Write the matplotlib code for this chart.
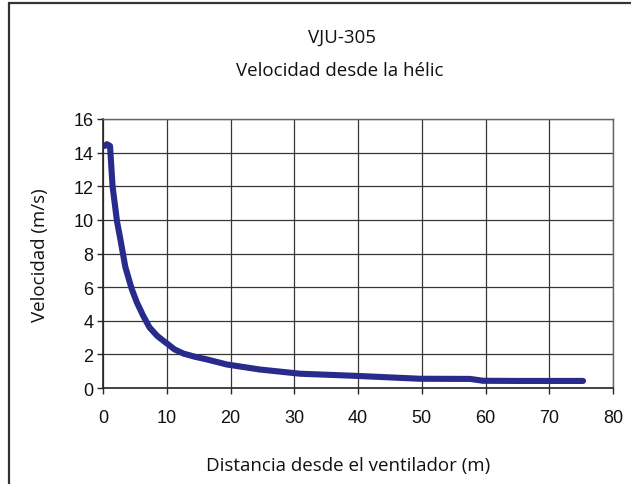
import matplotlib
matplotlib.use("Agg")
import matplotlib.pyplot as plt
from matplotlib.patches import Rectangle

distancia = [0.3, 0.6, 1.1, 1.5, 2.2, 2.7, 3.5, 4.5, 5.3, 6.3, 7.3, 8.5, 9.5, 10.2, 11.2,
             12.6, 14.5, 16.3, 19.4, 24.6, 30.9, 39.8, 49.7, 57.6, 59.6, 65.0, 75.3]
velocidad = [14.4, 14.5, 14.4, 12.0, 9.9, 8.9, 7.2, 5.9, 5.1, 4.3, 3.6, 3.1, 2.8, 2.6, 2.3,
             2.05, 1.85, 1.7, 1.4, 1.1, 0.85, 0.72, 0.55, 0.54, 0.43, 0.42, 0.42]

xticks = [0, 10, 20, 30, 40, 50, 60, 70, 80]
yticks = [0, 2, 4, 6, 8, 10, 12, 14, 16]

titulo1 = "VJU-305"
titulo2 = "Velocidad desde la hélic"
xlabel = "Distancia desde el ventilador (m)"
ylabel = "Velocidad (m/s)"

fig = plt.figure(figsize=(6.31, 4.85), dpi=100)
fig.patch.set_facecolor("white")
ax = fig.add_axes([103/631, 1 - 389/485, 510/631, 269/485])

ax.plot(distancia, velocidad, color="#292b8c", linewidth=4.4, solid_capstyle="round",
        solid_joinstyle="round")

ax.set_xlim(0, 80)
ax.set_ylim(0, 16)
ax.set_xticks(xticks)
ax.set_yticks(yticks)
ax.grid(True, color="#3a3434", linewidth=0.9)
ax.set_axisbelow(True)
for s in ax.spines.values():
    s.set_color("#6a6262")
    s.set_linewidth(1.0)
for s in ["left", "bottom"]:
    ax.spines[s].set_color("#2a2424")
    ax.spines[s].set_linewidth(1.2)
ax.tick_params(axis="both", direction="out", length=4, width=1, color="#2a2424",
               labelsize=13, labelcolor="#111111")
for lbl in ax.get_xticklabels() + ax.get_yticklabels():
    lbl.set_family("Liberation Sans")
ax.tick_params(axis="x", pad=11)
ax.tick_params(axis="y", pad=3)

fnt = dict(fontsize=13.5, family="Open Sans", color="#111111")
fig.text(342/631, 1 - 38/485, titulo1, ha="center", va="center", **fnt)
fig.text(340/631, 1 - 71/485, titulo2, ha="center", va="center", **fnt)
fig.text(348/631, 1 - 466/485, xlabel, ha="center", va="center", **fnt)
fig.text(40/631, 1 - 255/485, ylabel, ha="center", va="center", rotation=90, **fnt)

fig.patches.append(Rectangle((9/631, -0.1), 1.2, (1 - 4/485) + 0.1,
                             transform=fig.transFigure, fill=False,
                             edgecolor="#333333", linewidth=1.6))

fig.savefig("out.png", dpi=100, facecolor="white")
